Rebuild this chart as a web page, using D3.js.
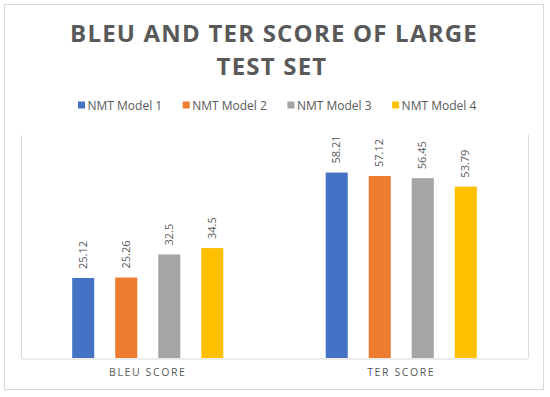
<!DOCTYPE html>
<html>
<head>
<meta charset="utf-8">
<script src="https://cdn.jsdelivr.net/npm/d3@7"></script>
<style>
  body { margin: 0; background: #fff; }
  text { font-family: "Open Sans", sans-serif; }
</style>
</head>
<body>
<svg id="chart" width="550" height="397"></svg>
<script>
// Data
var categories = ["BLEU SCORE", "TER SCORE"];
var models = ["NMT Model 1", "NMT Model 2", "NMT Model 3", "NMT Model 4"];
var bleuValues = [25.12, 25.26, 32.5, 34.5];
var terValues = [58.21, 57.12, 56.45, 53.79];
var colors = ["#4472C4", "#ED7D31", "#A5A5A5", "#FFC000"];

var rows = [
  { cat: categories[0], vals: bleuValues },
  { cat: categories[1], vals: terValues }
];

var svg = d3.select("#chart"),
    width = +svg.attr("width"),
    height = +svg.attr("height");

// outer frame
svg.append("rect")
    .attr("x", 4.5).attr("y", 4.5)
    .attr("width", 539).attr("height", 385)
    .attr("fill", "#fff")
    .attr("stroke", "#D9D9D9");

// title
var title = svg.append("text")
    .attr("text-anchor", "middle")
    .attr("fill", "#595959")
    .style("font-size", "24px")
    .style("font-weight", "bold")
    .style("letter-spacing", "1.2px");
title.append("tspan").attr("x", 274).attr("y", 42).text("BLEU AND TER SCORE OF LARGE");
title.append("tspan").attr("x", 272).attr("y", 74.5).text("TEST SET");

// legend
var legend = svg.append("g").selectAll("g")
    .data(models)
    .enter().append("g")
    .attr("transform", function (d, i) { return "translate(" + (78 + i * 104.7) + ",105)"; });
legend.append("rect")
    .attr("x", 0).attr("y", -3.5)
    .attr("width", 7).attr("height", 7)
    .attr("fill", function (d, i) { return colors[i]; });
legend.append("text")
    .attr("x", 9.5).attr("y", 4.5)
    .attr("fill", "#595959")
    .style("font-size", "12px")
    .text(function (d) { return d; });

// plot area
var margin = { left: 21, right: 528, top: 135, bottom: 358 };

var x0 = d3.scaleBand()
    .domain(categories)
    .range([margin.left, margin.right]);

var x1 = d3.scaleBand()
    .domain(models)
    .range([0, x0.bandwidth()])
    .paddingInner(0.488)
    .paddingOuter(1.19);

var y = d3.scaleLinear()
    .domain([0, 70])
    .range([margin.bottom, margin.top]);

// plot area borders
svg.append("line")
    .attr("x1", margin.left + 0.5).attr("x2", margin.left + 0.5)
    .attr("y1", margin.top).attr("y2", margin.bottom)
    .attr("stroke", "#D9D9D9");
svg.append("line")
    .attr("x1", margin.right + 0.5).attr("x2", margin.right + 0.5)
    .attr("y1", margin.top).attr("y2", margin.bottom)
    .attr("stroke", "#D9D9D9");

var groups = svg.append("g").selectAll("g")
    .data(rows)
    .enter().append("g")
    .attr("transform", function (d) { return "translate(" + x0(d.cat) + ",0)"; });

groups.selectAll("rect")
    .data(function (d) { return d.vals; })
    .enter().append("rect")
    .attr("x", function (d, i) { return x1(models[i]); })
    .attr("y", function (d) { return y(d); })
    .attr("width", x1.bandwidth())
    .attr("height", function (d) { return y(0) - y(d); })
    .attr("fill", function (d, i) { return colors[i]; });

groups.selectAll("text")
    .data(function (d) { return d.vals; })
    .enter().append("text")
    .attr("transform", function (d, i) {
        return "translate(" + (x1(models[i]) + x1.bandwidth() / 2 + 3.5) + "," + (y(d) - 9) + ") rotate(-90)";
    })
    .attr("fill", "#595959")
    .style("font-size", "11px")
    .text(function (d) { return d; });

// x axis
var xAxis = svg.append("g")
    .attr("transform", "translate(0," + (margin.bottom + 0.5) + ")")
    .call(d3.axisBottom(x0).tickSize(0).tickPadding(10));
xAxis.select(".domain").attr("stroke", "#D9D9D9");
xAxis.selectAll("text")
    .attr("fill", "#595959")
    .style("font-size", "10.5px")
    .style("letter-spacing", "1.6px")
    .style("font-family", "'Open Sans', sans-serif");
</script>
</body>
</html>
